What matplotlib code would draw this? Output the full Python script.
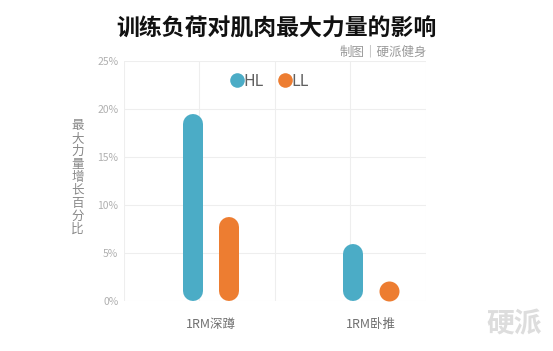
import matplotlib.pyplot as plt
import numpy as np

plt.rcParams['font.family'] = ['Noto Sans CJK SC', 'DejaVu Sans']

categories = ['1RM深蹲', '1RM卧推']
series = ['HL', 'LL']
hl = [19.5, 5.9]
ll = [8.7, 1.9]
colors = ['#4BACC6', '#ED7D31']
yticks = [0, 5, 10, 15, 20, 25]

fig = plt.figure(figsize=(5.53, 3.51), dpi=100)
ax = fig.add_axes([0.2242, 0.1425, 0.5461, 0.6838])
ax.set_xlim(-0.544, 1.344)
ax.set_ylim(0, 25)

# grid
for y in yticks:
    ax.axhline(y, color='#EEEEEE', lw=0.8, zorder=0)
for x in np.linspace(-0.544, 1.344, 5):
    ax.axvline(x, color='#EEEEEE', lw=0.8, zorder=0)

# rounded bars drawn as thick lines with round caps
bar_px = 20
lw = bar_px * 72 / fig.dpi
ax_h_px = 0.6838 * 351
r = (bar_px / 2) / ax_h_px * 25
x = np.arange(len(categories))
off = 0.11
for vals, c, dx in [(hl, colors[0], -off), (ll, colors[1], off)]:
    for xi, v in zip(x, vals):
        if v <= 2 * r:
            ax.plot([xi + dx], [r], 'o', color=c, ms=lw, mew=0, zorder=3)
        else:
            ax.plot([xi + dx, xi + dx], [r, v - r], color=c, lw=lw,
                    solid_capstyle='round', zorder=3)

for s in ax.spines.values():
    s.set_visible(False)
ax.set_yticks(yticks)
ax.set_yticklabels([f'{t}%' for t in yticks], color='#B0B0B0', fontsize=7.5)
ax.tick_params(axis='y', length=0, pad=4)
ax.set_xticks(x)
ax.set_xticklabels(categories, color='#707070', fontsize=9)
ax.tick_params(axis='x', length=0, pad=12)

# legend
for i, (s, c) in enumerate(zip(series, colors)):
    lx = 0.374 + i * 0.159
    ax.plot([lx], [0.92], 'o', color=c, ms=10.5, mew=0,
            transform=ax.transAxes, clip_on=False)
    ax.text(lx + 0.022, 0.915, s, color='#606060', fontsize=11.5,
            va='center', ha='left', transform=ax.transAxes)

fig.text(0.5, 0.918, '训练负荷对肌肉最大力量的影响', ha='center', va='center',
         fontsize=16.5, fontweight='bold', color='#111111')
fig.text(0.773, 0.852, '制图｜硬派健身', ha='right', va='center',
         fontsize=9, color='#999999')
fig.text(0.14, 0.495, '\n'.join('最大力量增长百分比'), ha='center', va='center',
         fontsize=9, color='#888888', linespacing=1.0)
fig.text(0.93, 0.075, '硬派', ha='center', va='center', fontsize=20,
         fontweight='bold', color='#DDDDDD', style='italic')

fig.savefig('out.png', dpi=100)
